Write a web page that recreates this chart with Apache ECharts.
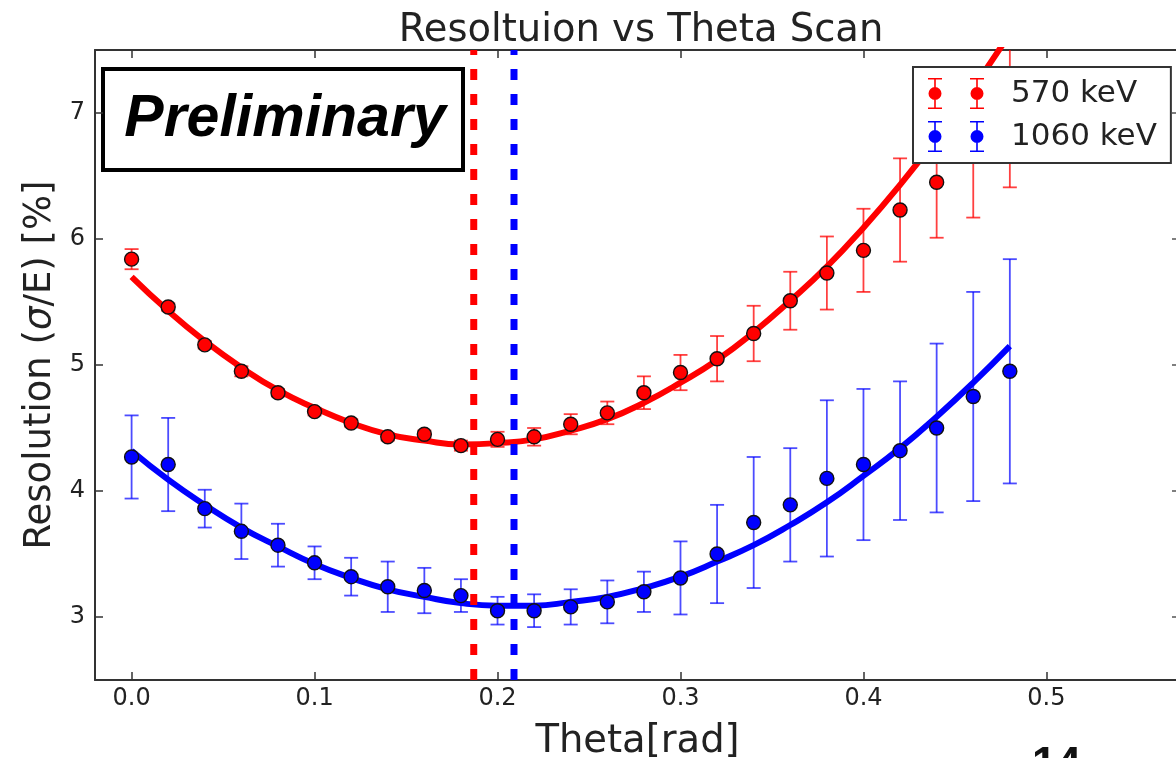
<!DOCTYPE html>
<html>
<head>
<meta charset="utf-8">
<script src="https://cdn.jsdelivr.net/npm/echarts@6/dist/echarts.min.js"></script>
<style>
html,body{margin:0;padding:0;background:#fff;}
#chart{width:1176px;height:758px;}
</style>
</head>
<body>
<div id="chart"></div>
<script>
// ---- data ----
const theta = [0.00,0.02,0.04,0.06,0.08,0.10,0.12,0.14,0.16,0.18,0.20,0.22,0.24,0.26,0.28,0.30,0.32,0.34,0.36,0.38,0.40,0.42,0.44,0.46,0.48];
const res570 = [5.84,5.46,5.16,4.95,4.78,4.63,4.54,4.43,4.45,4.36,4.41,4.43,4.53,4.62,4.78,4.94,5.05,5.25,5.51,5.73,5.91,6.23,6.45,6.70,7.00];
const err570 = [0.08,0.03,0.03,0.04,0.03,0.03,0.03,0.03,0.03,0.04,0.06,0.07,0.08,0.09,0.13,0.14,0.18,0.22,0.23,0.29,0.33,0.41,0.44,0.53,0.59];
const res1060 = [4.27,4.21,3.86,3.68,3.57,3.43,3.32,3.24,3.21,3.17,3.05,3.05,3.08,3.12,3.20,3.31,3.50,3.75,3.89,4.10,4.21,4.32,4.50,4.75,4.95];
const err1060 = [0.33,0.37,0.15,0.22,0.17,0.13,0.15,0.20,0.18,0.13,0.11,0.13,0.14,0.17,0.16,0.29,0.39,0.52,0.45,0.62,0.60,0.55,0.67,0.83,0.89];
const fit570 = [5.70,5.43,5.19,4.98,4.80,4.66,4.54,4.45,4.40,4.37,4.38,4.41,4.48,4.57,4.70,4.86,5.04,5.26,5.51,5.78,6.09,6.43,6.80,7.20,7.63];
const fit1060 = [4.32,4.09,3.89,3.71,3.56,3.42,3.31,3.22,3.16,3.11,3.09,3.09,3.12,3.16,3.23,3.32,3.44,3.57,3.73,3.91,4.12,4.34,4.59,4.86,5.15];
const min570 = 0.187;
const min1060 = 0.209;
const xTicks = [0.0,0.1,0.2,0.3,0.4,0.5];
const yTicks = [3,4,5,6,7];
const yRange = [2.5,7.5];
const seriesNames = ['570 keV','1060 keV'];

const RED = '#ff0000', BLUE = '#0000ff';
const FONT = 'DejaVu Sans';

const chart = echarts.init(document.getElementById('chart'), null, {renderer:'canvas'});

function pts(xs, ys){ return xs.map((x,i)=>[x, ys[i]]); }
function errData(xs, ys, es){ return xs.map((x,i)=>[x, ys[i]-es[i], ys[i]+es[i]]); }
function vline(x){ return yRange.map(y=>[x, y]); }

function errRender(color){
  return function(params, api){
    const x = api.value(0), lo = api.value(1), hi = api.value(2);
    const a = api.coord([x, lo]), b = api.coord([x, hi]);
    const hw = 7;
    const st = {stroke: color, lineWidth: 1.8};
    return {type:'group', children:[
      {type:'line', shape:{x1:a[0],y1:a[1],x2:b[0],y2:b[1]}, style:st},
      {type:'line', shape:{x1:a[0]-hw,y1:a[1],x2:a[0]+hw,y2:a[1]}, style:st},
      {type:'line', shape:{x1:b[0]-hw,y1:b[1],x2:b[0]+hw,y2:b[1]}, style:st}
    ]};
  };
}

// legend icon: two markers with error bars
const iconPath = 'path://' +
  'M6.2 0H7.8V31H6.2Z M0 0H14V1.6H0Z M0 29.4H14V31H0Z M13.5 15.5A6.5 6.5 0 1 1 0.5 15.5A6.5 6.5 0 1 1 13.5 15.5Z ' +
  'M48.2 0H49.8V31H48.2Z M42 0H56V1.6H42Z M42 29.4H56V31H42Z M55.5 15.5A6.5 6.5 0 1 1 42.5 15.5A6.5 6.5 0 1 1 55.5 15.5Z';

const axisLineStyle = {color:'#333', width:2};

const option = {
  backgroundColor:'#fff',
  animation:false,
  title:{
    text:'Resoltuion vs Theta Scan',
    left:641, textAlign:'center', top:11, padding:0,
    textStyle:{fontFamily:FONT, fontSize:38.5, fontWeight:'normal', color:'#222'}
  },
  legend:{
    data:seriesNames.map(n=>({name:n, icon:iconPath})),
    orient:'vertical',
    left:913, top:67,
    itemWidth:56, itemHeight:31, itemGap:12,
    padding:[11,14,11,15],
    backgroundColor:'#fff',
    borderColor:'#333', borderWidth:2, borderRadius:0,
    itemStyle:{borderWidth:0},
    textStyle:{fontFamily:FONT, fontSize:31, color:'#222', padding:[0,0,0,22]},
    selectedMode:false,
    z:10
  },
  grid:{left:95, top:50, right:-4, bottom:78, containLabel:false, outerBoundsMode:'none'},
  xAxis:[{
    type:'value', min:-0.02, max:0.573, position:'bottom',
    name:'Theta[rad]', nameLocation:'middle', nameGap:42,
    nameTextStyle:{fontFamily:FONT, fontSize:38.5, color:'#222'},
    axisLine:{show:true, onZero:false, lineStyle:axisLineStyle},
    axisTick:{show:true, inside:true, length:8, customValues:xTicks, lineStyle:{color:'#333', width:1.5}},
    axisLabel:{show:true, customValues:xTicks, formatter:v=>Number(v).toFixed(1), margin:7,
      fontFamily:FONT, fontSize:24, color:'#222'},
    splitLine:{show:false}
  },{
    type:'value', min:-0.02, max:0.573, position:'top',
    axisLine:{show:true, onZero:false, lineStyle:axisLineStyle},
    axisTick:{show:true, inside:true, length:8, customValues:xTicks, lineStyle:{color:'#333', width:1.5}},
    axisLabel:{show:false}, splitLine:{show:false}
  }],
  yAxis:[{
    type:'value', min:yRange[0], max:yRange[1], position:'left',
    name:'Resolution ({i|σ}/E) [%]', nameLocation:'middle', nameGap:29, nameRotate:90,
    nameTextStyle:{fontFamily:FONT, fontSize:37, color:'#222',
      rich:{i:{fontFamily:FONT, fontSize:37, fontStyle:'italic', color:'#222'}}},
    axisLine:{show:true, onZero:false, lineStyle:axisLineStyle},
    axisTick:{show:true, inside:true, length:8, customValues:yTicks, lineStyle:{color:'#333', width:1.5}},
    axisLabel:{show:true, customValues:yTicks, formatter:v=>String(Math.round(v)), margin:10,
      fontFamily:FONT, fontSize:24, color:'#222'},
    splitLine:{show:false}
  },{
    type:'value', min:yRange[0], max:yRange[1], position:'right',
    axisLine:{show:true, onZero:false, lineStyle:axisLineStyle},
    axisTick:{show:true, inside:true, length:8, customValues:yTicks, lineStyle:{color:'#555', width:1.5}},
    axisLabel:{show:false}, splitLine:{show:false}
  }],
  series:[
    {name:'570 keV fit', type:'line', data:pts(theta, fit570), smooth:true, showSymbol:false,
     lineStyle:{color:RED, width:6}, itemStyle:{color:RED}, z:2, silent:true},
    {name:'1060 keV fit', type:'line', data:pts(theta, fit1060), smooth:true, showSymbol:false,
     lineStyle:{color:BLUE, width:6}, itemStyle:{color:BLUE}, z:2, silent:true},
    {name:'570 keV err', type:'custom', renderItem:errRender('rgba(255,0,0,0.75)'),
     data:errData(theta, res570, err570), encode:{x:0, y:[1,2]}, clip:true, z:3, silent:true},
    {name:'1060 keV err', type:'custom', renderItem:errRender('rgba(0,0,255,0.7)'),
     data:errData(theta, res1060, err1060), encode:{x:0, y:[1,2]}, clip:true, z:3, silent:true},
    {name:seriesNames[0], type:'scatter', data:pts(theta, res570), symbol:'circle', symbolSize:14,
     itemStyle:{color:RED, borderColor:'#111', borderWidth:1.4, opacity:1}, z:4, clip:true},
    {name:seriesNames[1], type:'scatter', data:pts(theta, res1060), symbol:'circle', symbolSize:14,
     itemStyle:{color:BLUE, borderColor:'#111', borderWidth:1.4, opacity:1}, z:4, clip:true},
    {name:'570 keV min', type:'line', data:vline(min570), showSymbol:false, silent:true, z:5,
     lineStyle:{color:RED, width:7, type:[11,14], cap:'butt'}},
    {name:'1060 keV min', type:'line', data:vline(min1060), showSymbol:false, silent:true, z:5,
     lineStyle:{color:BLUE, width:7, type:[11,14], cap:'butt'}}
  ],
  graphic:[
    {type:'group', left:101, top:67, z:20, children:[
      {type:'rect', shape:{x:0, y:0, width:360, height:101}, style:{fill:'#fff', stroke:'#000', lineWidth:4}},
      {type:'text', x:182, y:51, style:{text:'Preliminary', font:'italic bold 59px "Liberation Sans", Arial, sans-serif',
        fill:'#000', align:'center', verticalAlign:'middle'}}
    ]},
    {type:'text', left:1032, top:744, z:20, style:{text:'14', font:'bold 44px "Liberation Sans", Arial, sans-serif', fill:'#111'}}
  ]
};
chart.setOption(option);
</script>
</body>
</html>
